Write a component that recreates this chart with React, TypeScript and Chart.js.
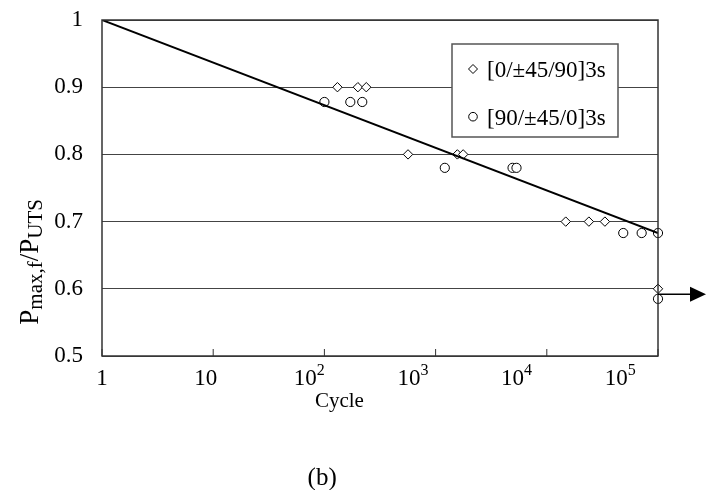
import { useEffect, useRef } from 'react';
import { Chart, registerables } from 'chart.js';

Chart.register(...registerables);

const FONT = '"Liberation Serif", "Times New Roman", Times, serif';

// [0/±45/90]3s specimens (diamonds)
const crossPlyCycles = [131, 200, 238, 565, 1570, 1770, 14800, 23900, 33300, 100000];
const crossPlyStress = [0.9, 0.9, 0.9, 0.8, 0.8, 0.8, 0.7, 0.7, 0.7, 0.6];

// [90/±45/0]3s specimens (circles)
const reversePlyCycles = [100, 171, 219, 1210, 4920, 5340, 48700, 71300, 100000, 100000];
const reversePlyStress = [0.878, 0.878, 0.878, 0.78, 0.78, 0.78, 0.683, 0.683, 0.683, 0.585];

// fitted S-N line
const fitCycles = [1, 100000];
const fitStress = [1.0, 0.683];

// run-out arrow level
const runoutStress = 0.592;

const xTickExponents = [0, 1, 2, 3, 4, 5];
const yTickValues = [0.5, 0.6, 0.7, 0.8, 0.9, 1.0];
const legendLabels = ['[0/±45/90]3s', '[90/±45/0]3s'];
const xTitle = 'Cycle';
const caption = '(b)';
const yTitleParts = [
  { text: 'P', sub: false },
  { text: 'max,f', sub: true },
  { text: '/P', sub: false },
  { text: 'UTS', sub: true },
];

function drawDiamond(ctx: CanvasRenderingContext2D, x: number, y: number, r: number) {
  ctx.beginPath();
  ctx.moveTo(x, y - r);
  ctx.lineTo(x + r, y);
  ctx.lineTo(x, y + r);
  ctx.lineTo(x - r, y);
  ctx.closePath();
  ctx.fillStyle = '#fff';
  ctx.fill();
  ctx.stroke();
}

function drawCircle(ctx: CanvasRenderingContext2D, x: number, y: number, r: number) {
  ctx.beginPath();
  ctx.arc(x, y, r, 0, Math.PI * 2);
  ctx.fillStyle = '#fff';
  ctx.fill();
  ctx.stroke();
}

const decorations = {
  id: 'decorations',
  afterDatasetsDraw(chart: any) {
    const ctx: CanvasRenderingContext2D = chart.ctx;
    const { left, right, top, bottom } = chart.chartArea;
    const w = right - left;
    const h = bottom - top;
    const xs = chart.scales.x;
    const ys = chart.scales.y;
    ctx.save();

    // legend box
    const boxW = 166;
    const boxH = 93;
    const bx = right - 40 - boxW;
    const by = top + 24;
    ctx.fillStyle = '#fff';
    ctx.fillRect(bx, by, boxW, boxH);
    ctx.strokeStyle = '#555';
    ctx.lineWidth = 1.5;
    ctx.strokeRect(bx, by, boxW, boxH);
    ctx.lineWidth = 1;
    ctx.strokeStyle = '#000';
    const rowY = [by + 25, by + 72.7];
    drawDiamond(ctx, bx + 21, rowY[0], 4.5);
    drawCircle(ctx, bx + 21, rowY[1], 4.3);
    ctx.fillStyle = '#000';
    ctx.font = `23px ${FONT}`;
    ctx.textAlign = 'left';
    ctx.textBaseline = 'alphabetic';
    legendLabels.forEach((t, i) => ctx.fillText(t, bx + 35, rowY[i] + 8));

    // frame
    ctx.strokeStyle = '#333';
    ctx.lineWidth = 1.5;
    ctx.strokeRect(left, top, w, h);

    // inward tick marks
    ctx.lineWidth = 1;
    xTickExponents.forEach((k) => {
      const px = xs.getPixelForValue(Math.pow(10, k));
      ctx.beginPath();
      ctx.moveTo(px, bottom);
      ctx.lineTo(px, bottom - 7);
      ctx.stroke();
    });

    // x tick labels (hand placed in the original, slightly compressed)
    const labelSpread = 0.932;
    const baseY = bottom + 29;
    ctx.fillStyle = '#000';
    xTickExponents.forEach((k) => {
      const tx = xs.getPixelForValue(Math.pow(10, k));
      const cx = left + (tx - left) * labelSpread;
      ctx.font = `23px ${FONT}`;
      if (k === 0 || k === 1) {
        ctx.textAlign = 'center';
        ctx.fillText(k === 0 ? '1' : '10', cx, baseY);
      } else {
        ctx.textAlign = 'left';
        const wb = ctx.measureText('10').width;
        ctx.font = `16px ${FONT}`;
        const ws = ctx.measureText(String(k)).width;
        const start = cx - (wb + ws) / 2;
        ctx.font = `23px ${FONT}`;
        ctx.fillText('10', start, baseY);
        ctx.font = `16px ${FONT}`;
        ctx.fillText(String(k), start + wb, baseY - 10);
      }
    });

    // x title
    ctx.font = `21px ${FONT}`;
    ctx.textAlign = 'center';
    ctx.fillText(xTitle, left + 0.427 * w, bottom + 51);

    // caption
    ctx.font = `25px ${FONT}`;
    ctx.fillText(caption, left + 0.396 * w, bottom + 129);

    // y title (rotated, with subscripts)
    const mainSize = 27;
    const subSize = 21;
    let total = 0;
    yTitleParts.forEach((p) => {
      ctx.font = `${p.sub ? subSize : mainSize}px ${FONT}`;
      total += ctx.measureText(p.text).width;
    });
    ctx.save();
    ctx.translate(29, top + 0.72 * h);
    ctx.rotate(-Math.PI / 2);
    ctx.textAlign = 'left';
    let cur = -total / 2;
    yTitleParts.forEach((p) => {
      ctx.font = `${p.sub ? subSize : mainSize}px ${FONT}`;
      ctx.fillText(p.text, cur, p.sub ? 13 : 9);
      cur += ctx.measureText(p.text).width;
    });
    ctx.restore();

    // run-out arrow
    const ay = ys.getPixelForValue(runoutStress);
    ctx.strokeStyle = '#000';
    ctx.lineWidth = 1.5;
    ctx.beginPath();
    ctx.moveTo(right, ay);
    ctx.lineTo(right + 33, ay);
    ctx.stroke();
    ctx.beginPath();
    ctx.moveTo(right + 32, ay - 7.5);
    ctx.lineTo(right + 48, ay);
    ctx.lineTo(right + 32, ay + 7.5);
    ctx.closePath();
    ctx.fillStyle = '#000';
    ctx.fill();

    ctx.restore();
  },
};

export default function App() {
  const ref = useRef<HTMLCanvasElement>(null);
  useEffect(() => {
    document.body.style.margin = '0';
    const canvas = ref.current;
    if (!canvas) return;
    const chart = new Chart(canvas, {
      type: 'scatter',
      data: {
        datasets: [
          {
            label: 'fit',
            type: 'line',
            data: fitCycles.map((x, i) => ({ x, y: fitStress[i] })),
            borderColor: '#000',
            borderWidth: 2,
            pointRadius: 0,
            fill: false,
            order: 0,
          },
          {
            label: legendLabels[0],
            data: crossPlyCycles.map((x, i) => ({ x, y: crossPlyStress[i] })),
            pointStyle: 'rectRot',
            pointRadius: 4.7,
            borderColor: '#000',
            borderWidth: 1,
            backgroundColor: '#fff',
            clip: false,
            order: 1,
          },
          {
            label: legendLabels[1],
            data: reversePlyCycles.map((x, i) => ({ x, y: reversePlyStress[i] })),
            pointStyle: 'circle',
            pointRadius: 4.6,
            borderColor: '#000',
            borderWidth: 1,
            backgroundColor: '#fff',
            clip: false,
            order: 1,
          },
        ] as any,
      },
      options: {
        responsive: false,
        animation: false,
        layout: { padding: { top: 20, right: 54, left: 0, bottom: 0 } },
        plugins: { legend: { display: false }, tooltip: { enabled: false } },
        scales: {
          x: {
            type: 'logarithmic',
            min: 1,
            max: 100000,
            grid: { display: false },
            border: { display: false },
            ticks: { display: false },
            afterFit: (s: any) => {
              s.height = 134;
            },
          },
          y: {
            type: 'linear',
            min: 0.5,
            max: 1,
            afterBuildTicks: (s: any) => {
              s.ticks = yTickValues.map((v) => ({ value: v }));
            },
            grid: { color: '#444', lineWidth: 1, drawTicks: false },
            border: { display: false },
            ticks: {
              font: { family: FONT, size: 23 },
              color: '#000',
              padding: 19,
              callback: (v: any) => (Number(v) === 1 ? '1' : Number(v).toFixed(1)),
            },
            afterFit: (s: any) => {
              s.width = 102;
              s.paddingTop = 0;
              s.paddingBottom = 0;
            },
          },
        },
      } as any,
      plugins: [decorations],
    });
    return () => chart.destroy();
  }, []);
  return (
    <div style={{ width: 712, height: 490 }}>
      <canvas ref={ref} width={712} height={490} style={{ display: 'block' }} />
    </div>
  );
}
